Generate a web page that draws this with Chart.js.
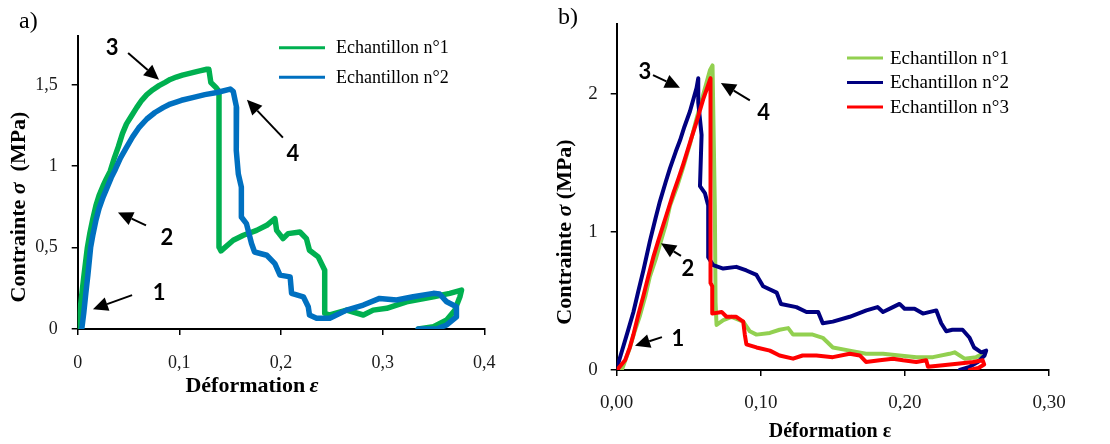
<!DOCTYPE html>
<html>
<head>
<meta charset="utf-8">
<script src="https://cdn.jsdelivr.net/npm/chart.js@4/dist/chart.umd.min.js"></script>
<style>
  html, body { margin: 0; padding: 0; background: #fff; }
  #wrap { position: relative; width: 1110px; height: 444px; }
  canvas { position: absolute; top: 0; }
  #chartA { left: 0; }
  #chartB { left: 550px; }
</style>
</head>
<body>
<div id="wrap">
  <canvas id="chartA" width="550" height="444"></canvas>
  <canvas id="chartB" width="560" height="444"></canvas>
</div>
<script>
// ---- Données ----
const seriesNames = ['Echantillon n°1', 'Echantillon n°2', 'Echantillon n°3'];

// a) tick values / labels
const aXTicks = [0, 0.1, 0.2, 0.3, 0.4];
const aXLabels = ['0', '0,1', '0,2', '0,3', '0,4'];
const aYTicks = [0, 0.5, 1, 1.5];
const aYLabels = ['0', '0,5', '1', '1,5'];

// a) Echantillon n°1
const aEch1X = [0.000, 0.002, 0.004, 0.006, 0.0095, 0.012, 0.015, 0.018, 0.021, 0.025, 0.028, 0.032, 0.036, 0.040, 0.044, 0.048, 0.053,
  0.058, 0.063, 0.068, 0.074, 0.080, 0.086, 0.091, 0.097, 0.103, 0.109, 0.114, 0.120, 0.127, 0.129,
  0.131, 0.136, 0.139, 0.139, 0.141, 0.153, 0.163, 0.176, 0.186, 0.194, 0.1957, 0.202, 0.207, 0.2186, 0.225, 0.228, 0.2366, 0.243,
  0.243, 0.248, 0.2645, 0.281, 0.2907, 0.304, 0.3235, 0.350, 0.366, 0.3776, 0.376, 0.371, 0.363, 0.350, 0.335];
const aEch1Y = [0.00, 0.10, 0.21, 0.32, 0.50, 0.59, 0.68, 0.76, 0.82, 0.88, 0.92, 0.97, 1.05, 1.12, 1.20, 1.26, 1.31,
  1.36, 1.405, 1.44, 1.47, 1.495, 1.515, 1.533, 1.548, 1.56, 1.569, 1.577, 1.586, 1.596, 1.596,
  1.514, 1.484, 1.46, 0.504, 0.48, 0.545, 0.576, 0.606, 0.637, 0.678, 0.606, 0.555, 0.586, 0.596, 0.555, 0.484, 0.443, 0.361,
  0.096, 0.086, 0.116, 0.086, 0.116, 0.127, 0.167, 0.198, 0.219, 0.239, 0.198, 0.116, 0.055, 0.014, 0.0];

// a) Echantillon n°2
const aEch2X = [0.004, 0.006, 0.008, 0.010, 0.0127, 0.015, 0.018, 0.021, 0.025, 0.029, 0.033, 0.037, 0.042, 0.048, 0.054, 0.060, 0.068,
  0.076, 0.084, 0.091, 0.102, 0.114, 0.125, 0.137, 0.150, 0.153, 0.1563, 0.156, 0.158, 0.161, 0.161, 0.166, 0.171, 0.174, 0.186,
  0.194, 0.199, 0.209, 0.2104, 0.222, 0.2268, 0.228, 0.235, 0.248, 0.2645, 0.281, 0.297, 0.3137, 0.330, 0.350, 0.356, 0.363,
  0.3726, 0.3726, 0.363, 0.353, 0.335];
const aEch2Y = [0.00, 0.10, 0.22, 0.33, 0.50, 0.58, 0.67, 0.74, 0.81, 0.87, 0.93, 0.98, 1.05, 1.116, 1.18, 1.235, 1.29,
  1.33, 1.36, 1.382, 1.405, 1.423, 1.44, 1.453, 1.474, 1.46, 1.361, 1.096, 0.953, 0.871, 0.688, 0.647, 0.525, 0.473, 0.453,
  0.402, 0.331, 0.32, 0.219, 0.198, 0.137, 0.086, 0.066, 0.066, 0.116, 0.147, 0.188, 0.178, 0.198, 0.219, 0.215, 0.167,
  0.137, 0.075, 0.025, 0.0, 0.0];

// b) tick values / labels
const bXTicks = [0, 0.1, 0.2, 0.3];
const bXLabels = ['0,00', '0,10', '0,20', '0,30'];
const bYTicks = [0, 1, 2];
const bYLabels = ['0', '1', '2'];

// b) Echantillon n°1
const bEch1X = [0.0035, 0.006, 0.0092, 0.0125, 0.0162, 0.020, 0.023, 0.027, 0.030, 0.034, 0.037, 0.042, 0.0462, 0.051, 0.0554, 0.060,
  0.0647, 0.0665, 0.0681, 0.0686, 0.0693, 0.074, 0.0797, 0.0878,
  0.0924, 0.097, 0.1063, 0.113, 0.119, 0.1224, 0.129, 0.136, 0.143, 0.150, 0.1617, 0.173, 0.1848, 0.1963, 0.208, 0.2195, 0.231,
  0.2345, 0.2414, 0.2495, 0.254];
const bEch1Y = [0.00, 0.07, 0.163, 0.28, 0.396, 0.54, 0.676, 0.80, 0.909, 1.05, 1.19, 1.33, 1.47, 1.64, 1.818, 1.99,
  2.168, 2.203, 1.19, 0.49, 0.326, 0.361, 0.385, 0.35,
  0.28, 0.256, 0.268, 0.291, 0.303, 0.256, 0.256, 0.256, 0.233, 0.163, 0.14, 0.117, 0.117, 0.105, 0.093, 0.093, 0.117,
  0.128, 0.082, 0.093, 0.117];

// b) Echantillon n°2
const bEch2X = [0.000, 0.004, 0.008, 0.0116, 0.015, 0.0185, 0.023, 0.027, 0.030, 0.034, 0.037, 0.041, 0.0439, 0.047, 0.0508, 0.0535,
  0.0554, 0.0566, 0.0566, 0.0589, 0.0578, 0.0612, 0.0635,
  0.0635, 0.067, 0.0739, 0.083, 0.090, 0.097, 0.1016, 0.111, 0.114, 0.1247, 0.1317, 0.1398, 0.143, 0.150, 0.1617, 0.1733, 0.181,
  0.1848, 0.1917, 0.1963, 0.1998, 0.2067, 0.2125, 0.2218, 0.2252, 0.2287, 0.233, 0.240, 0.2449, 0.248, 0.253, 0.2564, 0.2553,
  0.2506, 0.2449, 0.238];
const bEch2Y = [0.01, 0.15, 0.29, 0.42, 0.57, 0.72, 0.93, 1.10, 1.22, 1.36, 1.46, 1.58, 1.66, 1.76, 1.87, 1.97,
  2.04, 2.11, 1.935, 1.70, 1.33, 1.28, 1.19,
  0.816, 0.758, 0.734, 0.746, 0.72, 0.688, 0.606, 0.56, 0.478, 0.455, 0.42, 0.42, 0.338, 0.35, 0.385, 0.431, 0.455,
  0.42, 0.455, 0.478, 0.443, 0.443, 0.408, 0.431, 0.338, 0.28, 0.291, 0.291, 0.233, 0.163, 0.128, 0.14, 0.105,
  0.058, 0.023, 0.0];

// b) Echantillon n°3
const bEch3X = [0.001, 0.0058, 0.009, 0.0116, 0.015, 0.0185, 0.022, 0.0254, 0.029, 0.0323, 0.036, 0.0393, 0.043, 0.0462, 0.051, 0.0554,
  0.060, 0.0647, 0.0651, 0.0651, 0.0663, 0.0663, 0.0728,
  0.0762, 0.083, 0.0878, 0.0889, 0.090, 0.097, 0.1063, 0.113, 0.1224, 0.129, 0.1386, 0.150, 0.1617, 0.1687, 0.173, 0.1825, 0.1917,
  0.1987, 0.2079, 0.2148, 0.216, 0.2264, 0.238, 0.2472, 0.254, 0.255, 0.251, 0.245];
const bEch3Y = [0.01, 0.07, 0.16, 0.256, 0.40, 0.536, 0.68, 0.816, 0.94, 1.049, 1.17, 1.28, 1.39, 1.49, 1.65, 1.795,
  1.958, 2.098, 2.11, 0.629, 0.606, 0.408, 0.42,
  0.385, 0.385, 0.35, 0.256, 0.186, 0.163, 0.14, 0.105, 0.082, 0.105, 0.105, 0.093, 0.117, 0.105, 0.058, 0.07, 0.082,
  0.07, 0.058, 0.07, 0.023, 0.035, 0.047, 0.058, 0.07, 0.04, 0.015, 0.0];

// ---- helpers ----
function pts(xs, ys) {
  return xs.map((x, i) => ({ x: x, y: ys[i] }));
}

function drawMixed(ctx, parts, cx, cy, angle) {
  ctx.save();
  ctx.translate(cx, cy);
  ctx.rotate(angle);
  let total = 0;
  parts.forEach(p => { ctx.font = p.f; total += ctx.measureText(p.t).width; });
  let x = -total / 2;
  ctx.textBaseline = 'middle';
  ctx.textAlign = 'left';
  ctx.fillStyle = '#000';
  parts.forEach(p => {
    ctx.font = p.f;
    ctx.fillText(p.t, x, 0);
    x += ctx.measureText(p.t).width;
  });
  ctx.restore();
}

function drawArrow(ctx, x1, y1, x2, y2) {
  const ang = Math.atan2(y2 - y1, x2 - x1);
  const head = 15, half = 7;
  const bx = x2 - head * Math.cos(ang), by = y2 - head * Math.sin(ang);
  ctx.save();
  ctx.strokeStyle = '#000';
  ctx.fillStyle = '#000';
  ctx.lineWidth = 2;
  ctx.beginPath();
  ctx.moveTo(x1, y1);
  ctx.lineTo(bx, by);
  ctx.stroke();
  ctx.beginPath();
  ctx.moveTo(x2, y2);
  ctx.lineTo(bx + half * Math.sin(ang), by - half * Math.cos(ang));
  ctx.lineTo(bx - half * Math.sin(ang), by + half * Math.cos(ang));
  ctx.closePath();
  ctx.fill();
  ctx.restore();
}

// legende, titres, fleches numerotees
const decorPlugin = {
  id: 'decor',
  afterDraw(chart, args, o) {
    const ctx = chart.ctx;
    const xs = chart.scales.x, ys = chart.scales.y;

    // lettre du panneau
    ctx.save();
    ctx.font = '24px "Liberation Serif"';
    ctx.fillStyle = '#000';
    ctx.textBaseline = 'alphabetic';
    ctx.fillText(o.panel.text, o.panel.x, o.panel.y);
    ctx.restore();

    // titres d'axes
    drawMixed(ctx, o.yTitle.parts, o.yTitle.x, o.yTitle.y, -Math.PI / 2);
    drawMixed(ctx, o.xTitle.parts, o.xTitle.x, o.xTitle.y, 0);

    // legende
    chart.data.datasets.forEach((ds, i) => {
      const y = o.legend.y0 + i * o.legend.dy;
      ctx.save();
      ctx.strokeStyle = ds.borderColor;
      ctx.lineWidth = 3;
      ctx.beginPath();
      ctx.moveTo(o.legend.x0, y);
      ctx.lineTo(o.legend.x1, y);
      ctx.stroke();
      ctx.font = o.legend.font;
      ctx.fillStyle = '#000';
      ctx.textBaseline = 'middle';
      ctx.fillText(ds.label, o.legend.tx, y + 1);
      ctx.restore();
    });

    // fleches et numeros (en unites de donnees)
    o.marks.forEach(m => {
      drawArrow(ctx, xs.getPixelForValue(m.from[0]), ys.getPixelForValue(m.from[1]),
        xs.getPixelForValue(m.to[0]), ys.getPixelForValue(m.to[1]));
      ctx.save();
      ctx.font = 'bold 22px Lato';
      ctx.fillStyle = '#000';
      ctx.textAlign = 'center';
      ctx.textBaseline = 'middle';
      ctx.fillText(m.n, xs.getPixelForValue(m.at[0]), ys.getPixelForValue(m.at[1]));
      ctx.restore();
    });
  }
};

function axis(min, max, tickVals, tickLabels, fixedSize, isX, fontSize, pad) {
  return {
    type: 'linear',
    min: min,
    max: max,
    border: { color: '#000', width: 2 },
    grid: { drawOnChartArea: false, drawTicks: true, tickLength: 6, color: '#000', lineWidth: 1.5 },
    ticks: {
      font: { family: '"Liberation Serif"', size: fontSize },
      color: '#1a1a1a',
      padding: pad,
      callback: (v, i) => tickLabels[i]
    },
    afterBuildTicks: s => { s.ticks = tickVals.map(v => ({ value: v })); },
    afterFit: s => { if (isX) s.height = fixedSize; else s.width = fixedSize; }
  };
}

function makeChart(id, datasets, scales, padding, decor) {
  return new Chart(document.getElementById(id), {
    type: 'line',
    data: { datasets: datasets },
    options: {
      responsive: false,
      animation: false,
      devicePixelRatio: 1,
      layout: { padding: padding },
      elements: { point: { radius: 0 }, line: { tension: 0, borderJoinStyle: 'round', borderCapStyle: 'round' } },
      plugins: { legend: { display: false }, tooltip: { enabled: false }, decor: decor },
      scales: scales
    },
    plugins: [decorPlugin]
  });
}

const serifB = 'bold 22px "Liberation Serif"';
const serifBI = 'italic bold 22px "Liberation Serif"';

// ---- a) ----
makeChart('chartA', [
  { label: seriesNames[0], data: pts(aEch1X, aEch1Y), borderColor: '#00B050', borderWidth: 5.5, order: 2 },
  { label: seriesNames[1], data: pts(aEch2X, aEch2Y), borderColor: '#0070C0', borderWidth: 5.5, order: 1 }
], {
  x: axis(0, 0.4, aXTicks, aXLabels, 444 - 329, true, 18, 17),
  y: axis(0, 1.8, aYTicks, aYLabels, 77.7, false, 18, 14)
}, { left: 0, right: 550 - 484.3, top: 36, bottom: 0 }, {
  panel: { text: 'a)', x: 19, y: 28 },
  yTitle: { x: 19, y: 207, parts: [{ t: 'Contrainte ', f: serifB }, { t: 'σ', f: serifBI }, { t: '  (MPa)', f: serifB }] },
  xTitle: { x: 252, y: 386, parts: [{ t: 'Déformation\u2009', f: serifB }, { t: 'ε', f: serifBI }] },
  legend: { x0: 279, x1: 325, tx: 336, y0: 47.7, dy: 29.6, font: '18px "Liberation Serif"' },
  marks: [
    { n: '3', at: [0.0338, 1.727], from: [0.0496, 1.696], to: [0.080, 1.531] },
    { n: '4', at: [0.2117, 1.078], from: [0.2019, 1.176], to: [0.1665, 1.408] },
    { n: '2', at: [0.0878, 0.557], from: [0.0672, 0.637], to: [0.0396, 0.716] },
    { n: '1', at: [0.080, 0.220], from: [0.0535, 0.208], to: [0.015, 0.122] }
  ]
});

// ---- b) ----
makeChart('chartB', [
  { label: seriesNames[0], data: pts(bEch1X, bEch1Y), borderColor: '#92D050', borderWidth: 4, order: 3 },
  { label: seriesNames[1], data: pts(bEch2X, bEch2Y), borderColor: '#000080', borderWidth: 4, order: 2 },
  { label: seriesNames[2], data: pts(bEch3X, bEch3Y), borderColor: '#FF0000', borderWidth: 4, order: 1 }
], {
  x: axis(0, 0.3, bXTicks, bXLabels, 444 - 370, true, 19, 16),
  y: axis(0, 2.5, bYTicks, bYLabels, 66.7, false, 19, 13)
}, { left: 0, right: 560 - 499, top: 13.3, bottom: 0 }, {
  panel: { text: 'b)', x: 8, y: 24 },
  yTitle: { x: 15, y: 232, parts: [{ t: 'Contrainte ', f: serifB }, { t: 'σ', f: serifBI }, { t: ' (MPa)', f: serifB }] },
  xTitle: { x: 280, y: 432, parts: [{ t: 'Déformation ε', f: 'bold 20px "Liberation Serif"' }] },
  legend: { x0: 297, x1: 333, tx: 340, y0: 58, dy: 24.5, font: '19px "Liberation Serif"' },
  marks: [
    { n: '3', at: [0.0196, 2.154], from: [0.0252, 2.133], to: [0.0439, 2.042] },
    { n: '4', at: [0.102, 1.86], from: [0.0924, 1.951], to: [0.0723, 2.077] },
    { n: '2', at: [0.0494, 0.734], from: [0.0446, 0.825], to: [0.0307, 0.916] },
    { n: '1', at: [0.0425, 0.224], from: [0.0314, 0.238], to: [0.0127, 0.175] }
  ]
});
</script>
</body>
</html>
